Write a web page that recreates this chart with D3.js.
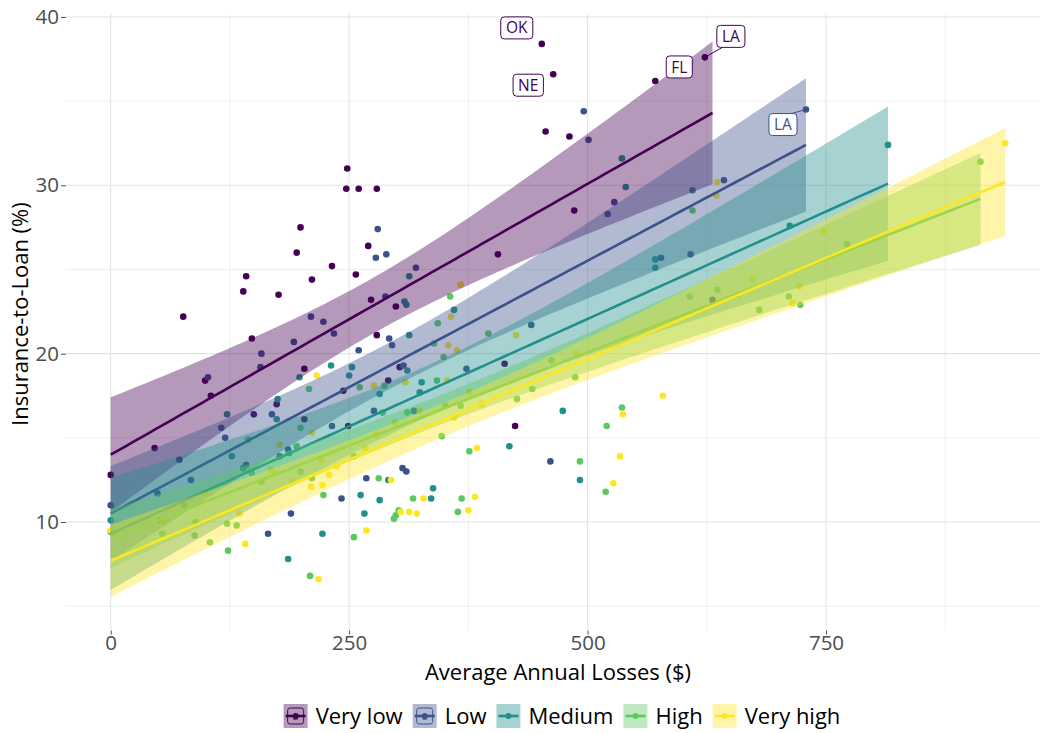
<!DOCTYPE html>
<html>
<head>
<meta charset="utf-8">
<script src="https://cdn.jsdelivr.net/npm/d3@7"></script>
<style>
  body { margin: 0; background: #fff; }
  text { font-family: "Open Sans", "DejaVu Sans", sans-serif; }
</style>
</head>
<body>
<div id="chart"></div>
<script>
// Risk groups and their colours (viridis, 5 steps)
const groups = ["Very low", "Low", "Medium", "High", "Very high"];
const groupColors = ["#440154", "#3B528B", "#21908C", "#5DC863", "#FDE725"];

// Points per group: [average annual losses ($), insurance-to-loan (%)]
const veryLow = [
  [0,12.8],[46,14.4],[72,13.7],[76,22.2],[99,18.4],[105,17.5],[139,23.7],[142,24.6],[148,20.9],[150,16.4],
  [174,17.0],[176,23.5],[195,26.0],[199,27.5],[203,19.1],[203,16.1],[211,24.4],[232,25.2],[244,17.8],[247,29.8],
  [248,31.0],[249,15.7],[257,24.7],[260,29.8],[270,26.4],[273,23.2],[279,29.8],[279,21.1],[291,18.4],[299,22.8],
  [303,19.2],[406,25.9],[413,19.4],[424,15.7],[452,38.4],[456,33.2],[464,36.6],[481,32.9],[486,28.5],[571,36.2],
  [623,37.6],[631,23.2]
];
const low = [
  [0,11.0],[49,11.7],[84,12.5],[102,18.6],[116,15.6],[120,15.0],[142,13.4],[157,19.2],[158,20.0],[165,9.3],
  [169,16.4],[177,13.9],[186,14.3],[189,10.5],[192,20.7],[210,22.2],[223,21.9],[232,15.7],[234,21.2],[242,11.4],
  [260,20.2],[268,12.6],[276,16.6],[278,25.7],[280,27.4],[288,23.4],[289,25.9],[292,20.9],[295,20.5],[306,13.2],
  [307,19.3],[310,13.0],[318,16.6],[320,25.1],[373,19.1],[441,21.7],[461,13.6],[496,34.4],[501,32.7],
  [521,28.3],[528,29.0],[577,25.7],[608,25.9],[643,30.3],[729,34.5]
];
const medium = [
  [0,10.1],[122,16.4],[127,13.9],[139,13.2],[174,16.1],[175,17.3],[186,7.8],[187,14.1],[198,18.6],[222,9.3],
  [231,19.3],[250,18.7],[253,19.2],[262,11.6],[266,10.5],[282,11.3],[282,17.6],[291,12.5],[308,23.1],
  [310,22.9],[311,19.0],[313,24.6],[313,21.1],[324,17.7],[326,18.3],[336,11.4],[338,12.0],[360,22.6],[418,14.5],
  [474,16.6],[492,12.5],[536,31.6],[540,29.9],[571,25.1],[571,25.6],[610,29.7],[712,27.6],[815,32.4]
];
const high = [
  [0,9.4],[51,10.1],[54,9.3],[77,11.0],[88,9.2],[89,10.0],[104,8.8],[122,9.9],[123,8.3],[132,9.8],
  [144,14.9],[148,12.9],[158,12.4],[195,14.5],[199,15.6],[199,13.0],[208,17.9],[209,6.8],[211,12.6],[223,11.6],
  [255,9.1],[255,13.9],[261,18.0],[281,12.6],[285,16.5],[287,18.1],[297,10.2],[299,10.4],[302,10.7],[311,16.5],
  [317,11.4],[339,20.6],[342,18.4],[343,21.8],[347,15.1],[349,19.8],[351,16.9],[356,23.4],[364,10.6],[367,16.9],
  [368,11.4],[376,14.2],[396,21.2],[426,17.3],[442,17.9],[462,19.6],[487,18.6],[492,13.6],[519,11.8],[520,15.7],
  [536,16.8],[607,23.4],[610,28.5],[636,23.8],[680,22.6],[711,23.4],[723,22.9],[772,26.5],[912,31.4]
];
const veryHigh = [
  [0,9.5],[55,10.0],[98,11.7],[135,10.5],[141,8.7],[168,13.1],[172,12.9],[177,14.6],[191,12.4],[210,12.1],
  [211,15.3],[216,18.7],[218,6.6],[221,13.7],[222,12.2],[229,12.8],[237,13.3],[267,14.4],[268,9.5],[276,18.1],
  [278,15.2],[294,12.5],[298,15.9],[304,10.6],[309,18.3],[313,10.6],[321,10.5],[324,16.6],[328,11.4],[353,18.4],
  [354,20.5],[357,22.2],[360,16.2],[363,20.2],[367,24.1],[375,10.7],[376,17.7],[382,11.5],[384,14.4],[389,17.0],
  [425,21.1],[488,20.0],[527,12.3],[534,13.9],[537,16.4],[579,17.5],[635,29.4],[636,30.2],[657,23.5],[673,24.4],
  [715,23.0],[722,24.0],[748,27.3],[938,32.5]
];
const groupPoints = [veryLow, low, medium, high, veryHigh];

// Trend lines: value at x = 0 and at each group's largest x
const fitAtStart = [14.0, 10.5, 9.3, 9.0, 7.7];
const fitAtEnd = [34.3, 32.4, 30.1, 29.2, 30.2];

// Labelled states
const labelStates = ["OK", "NE", "FL", "LA", "LA"];
const labelGroup = [0, 0, 0, 0, 1];
const labelX = [452, 464, 571, 623, 729];
const labelY = [38.4, 36.6, 36.2, 37.6, 34.5];

const xTicks = [0, 250, 500, 750];
const xMinor = [125, 375, 625, 875];
const yTicks = [10, 20, 30, 40];
const yMinor = [5, 15, 25, 35];

// Layout
const W = 1040, H = 733;
const panel = { left: 66, right: 1050, top: 13.6, bottom: 630.6 };
// label offsets from the point (pixels), as repelled in the reference
const labelNudge = [[-25, -16], [-25, 11], [24, -14], [26, -21], [-23, 15]];
const labelSegment = [false, false, false, true, true];

const svg = d3.select("#chart").append("svg")
  .attr("width", W).attr("height", H);

const x = d3.scaleLinear().domain([-46.9, 984.9]).range([panel.left, panel.right]);
const y = d3.scaleLinear().domain([3.55, 40.2]).range([panel.bottom, panel.top]);

// Grid
const grid = svg.append("g");
grid.selectAll(".ymin").data(yMinor).enter().append("line")
  .attr("x1", panel.left).attr("x2", W).attr("y1", d => y(d)).attr("y2", d => y(d))
  .attr("stroke", "#ebebeb").attr("stroke-width", 0.8);
grid.selectAll(".xmin").data(xMinor).enter().append("line")
  .attr("y1", panel.top).attr("y2", panel.bottom).attr("x1", d => x(d)).attr("x2", d => x(d))
  .attr("stroke", "#ebebeb").attr("stroke-width", 0.8);
grid.selectAll(".ymaj").data(yTicks).enter().append("line")
  .attr("x1", panel.left).attr("x2", W).attr("y1", d => y(d)).attr("y2", d => y(d))
  .attr("stroke", "#e3e3e3").attr("stroke-width", 1.1);
grid.selectAll(".xmaj").data(xTicks).enter().append("line")
  .attr("y1", panel.top).attr("y2", panel.bottom).attr("x1", d => x(d)).attr("x2", d => x(d))
  .attr("stroke", "#e3e3e3").attr("stroke-width", 1.1);

// Axes
const yAxis = svg.append("g")
  .attr("transform", `translate(${panel.left},0)`)
  .call(d3.axisLeft(y).tickValues(yTicks).tickSize(5).tickPadding(2));
const xAxis = svg.append("g")
  .attr("transform", `translate(0,${panel.bottom})`)
  .call(d3.axisBottom(x).tickValues(xTicks).tickSize(4).tickPadding(1));
[xAxis, yAxis].forEach(a => {
  a.select(".domain").remove();
  a.selectAll(".tick line").attr("stroke", "#4d4d4d").attr("stroke-width", 1);
  a.selectAll(".tick text").attr("fill", "#4d4d4d").style("font-size", "20.5px")
    .style("font-family", "'Open Sans', sans-serif");
});

svg.append("text")
  .attr("x", (panel.left + panel.right) / 2).attr("y", 680)
  .attr("text-anchor", "middle").style("font-size", "22px").attr("fill", "#000")
  .text("Average Annual Losses ($)");
svg.append("text")
  .attr("transform", `translate(28,${(panel.top + panel.bottom) / 2 - 8}) rotate(-90)`)
  .attr("text-anchor", "middle").style("font-size", "22px").attr("fill", "#000")
  .text("Insurance-to-Loan (%)");

// 95% confidence band around each trend line (lm-style standard error)
function tQuant(df) {
  const z = 1.959964;
  return z + (z ** 3 + z) / (4 * df) + (5 * z ** 5 + 16 * z ** 3 + 3 * z) / (96 * df * df);
}
function trendBand(pts, gi) {
  const n = pts.length;
  const [x0, x1] = d3.extent(pts, d => d[0]);
  const b = (fitAtEnd[gi] - fitAtStart[gi]) / (x1 - x0);
  const a = fitAtStart[gi] - b * x0;
  const mx = d3.mean(pts, d => d[0]), my = d3.mean(pts, d => d[1]);
  const sxx = d3.sum(pts, d => (d[0] - mx) ** 2);
  // residual spread of the points around their own least-squares line
  const bl = d3.sum(pts, d => (d[0] - mx) * (d[1] - my)) / sxx;
  const al = my - bl * mx;
  const s = Math.sqrt(d3.sum(pts, d => (d[1] - al - bl * d[0]) ** 2) / (n - 2));
  const t = tQuant(n - 2);
  return d3.range(80).map(i => {
    const xv = x0 + (x1 - x0) * i / 79;
    const fit = a + b * xv;
    const se = s * Math.sqrt(1 / n + (xv - mx) ** 2 / sxx);
    return { x: xv, fit, lo: fit - t * se, hi: fit + t * se };
  });
}

// Points
const pointLayer = svg.append("g");
groupPoints.forEach((pts, gi) => {
  pointLayer.selectAll(null).data(pts).enter().append("circle")
    .attr("cx", d => x(d[0])).attr("cy", d => y(d[1])).attr("r", 3.3)
    .attr("fill", groupColors[gi]);
});

// Ribbons and lines
const area = d3.area().x(d => x(d.x)).y0(d => y(d.lo)).y1(d => y(d.hi));
const line = d3.line().x(d => x(d.x)).y(d => y(d.fit));
groupPoints.forEach((pts, gi) => {
  const band = trendBand(pts, gi);
  svg.append("path").datum(band).attr("d", area)
    .attr("fill", groupColors[gi]).attr("fill-opacity", 0.4);
  svg.append("path").datum(band).attr("d", line)
    .attr("fill", "none").attr("stroke", groupColors[gi]).attr("stroke-width", 2.6);
});

// State labels
labelStates.forEach((st, i) => {
  const px = x(labelX[i]), py = y(labelY[i]);
  const cx = px + labelNudge[i][0], cy = py + labelNudge[i][1];
  const col = groupColors[labelGroup[i]];
  const g = svg.append("g");
  const t = g.append("text").attr("x", cx).attr("y", cy).attr("dy", "0.36em")
    .attr("text-anchor", "middle").style("font-size", "15.5px").attr("fill", col).text(st);
  const bb = t.node().getBBox();
  const bw = bb.width + 10, bh = 22;
  if (labelSegment[i]) {
    const ex = cx - Math.sign(labelNudge[i][0]) * bw / 2 * 0.6;
    const ey = cy - Math.sign(labelNudge[i][1]) * bh / 2;
    g.insert("line", "text").attr("x1", px).attr("y1", py).attr("x2", ex).attr("y2", ey)
      .attr("stroke", col).attr("stroke-width", 1);
  }
  g.insert("rect", "text").attr("x", cx - bw / 2).attr("y", cy - bh / 2)
    .attr("width", bw).attr("height", bh).attr("rx", 3.5)
    .attr("fill", "#fff").attr("stroke", col).attr("stroke-width", 1);
});

// Legend
const legend = svg.append("g");
const keySize = 24;
let cursor = 0;
groups.forEach((g, i) => {
  const item = legend.append("g");
  item.append("rect").attr("width", keySize).attr("height", keySize)
    .attr("fill", groupColors[i]).attr("fill-opacity", 0.4);
  if (i < 2) {
    item.append("rect").attr("x", 4).attr("y", 4).attr("width", 16).attr("height", 16).attr("rx", 2.5)
      .attr("fill", "none").attr("stroke", groupColors[i]).attr("stroke-width", 1);
    item.append("text").attr("x", 12).attr("y", 16).attr("text-anchor", "middle")
      .style("font-size", "10px").attr("fill", groupColors[i]).text("a");
  }
  item.append("line").attr("x1", 2).attr("x2", keySize - 2).attr("y1", keySize / 2).attr("y2", keySize / 2)
    .attr("stroke", groupColors[i]).attr("stroke-width", 2.6);
  item.append("circle").attr("cx", keySize / 2).attr("cy", keySize / 2).attr("r", 3)
    .attr("fill", groupColors[i]);
  const t = item.append("text").attr("x", keySize + 8).attr("y", keySize / 2).attr("dy", "0.36em")
    .style("font-size", "22px").attr("fill", "#000").text(g);
  const w = keySize + 8 + t.node().getComputedTextLength();
  item.attr("transform", `translate(${cursor},0)`);
  cursor += w + 10;
});
const legendWidth = cursor - 10;
legend.attr("transform", `translate(${562 - legendWidth / 2},${716 - keySize / 2})`);
</script>
</body>
</html>
